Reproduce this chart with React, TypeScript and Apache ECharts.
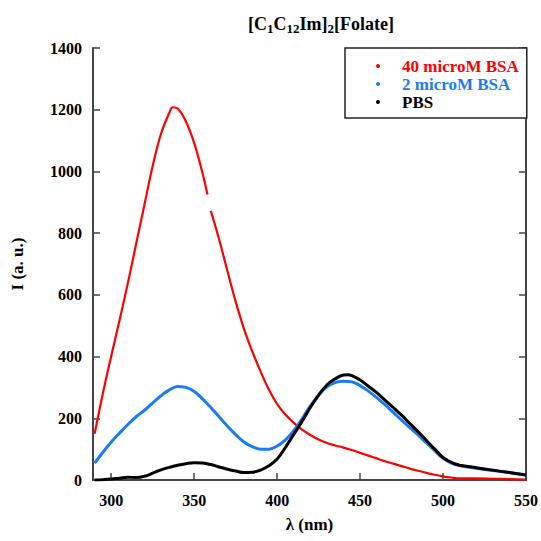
import React, { useEffect, useRef } from "react";
import * as echarts from "echarts";

const xTicks = [300, 350, 400, 450, 500, 550];

const redWl = [290, 295, 300, 305, 310, 315, 320, 325, 330, 335, 337, 340, 345, 350, 355, 358, 359, 360, 365, 370, 375, 380, 385, 390, 395, 400, 405, 410, 415, 420, 425, 430, 435, 440, 445, 450, 455, 460, 465, 470, 475, 480, 485, 490, 495, 500, 505, 510, 520, 530, 540, 550];
const redI: (number | null)[] = [150, 282, 402, 518, 638, 765, 892, 1018, 1122, 1190, 1208, 1204, 1162, 1092, 995, 925, null, 872, 780, 678, 578, 490, 417, 352, 293, 246, 212, 185, 163, 146, 131, 120, 112, 105, 97, 88, 79, 70, 61, 53, 45, 37, 30, 23, 17, 12, 8, 5, 5, 4, 3, 1];

const blueWl = [290, 295, 300, 305, 310, 315, 320, 325, 330, 335, 340, 345, 350, 355, 360, 365, 370, 375, 380, 385, 390, 395, 400, 405, 410, 415, 420, 425, 430, 435, 440, 445, 450, 455, 460, 465, 470, 475, 480, 485, 490, 495, 500, 505, 510, 520, 530, 540, 550];
const blueI = [55, 90, 123, 152, 180, 205, 226, 250, 273, 292, 303, 300, 287, 263, 235, 205, 175, 147, 123, 108, 100, 100, 110, 130, 160, 198, 240, 275, 302, 316, 320, 318, 306, 288, 267, 244, 219, 194, 170, 146, 120, 95, 70, 55, 47, 38, 31, 24, 16];

const pbsWl = [290, 295, 300, 305, 310, 315, 320, 325, 330, 335, 340, 345, 350, 355, 360, 365, 370, 375, 380, 385, 390, 395, 400, 405, 410, 415, 420, 425, 430, 435, 440, 443, 445, 450, 455, 460, 465, 470, 475, 480, 485, 490, 495, 500, 505, 510, 520, 530, 540, 550];
const pbsI = [0, 1, 3, 6, 9, 8, 12, 22, 33, 41, 48, 53, 56, 55, 50, 42, 35, 29, 24, 25, 32, 46, 68, 106, 148, 190, 235, 275, 308, 328, 340, 341, 338, 324, 304, 283, 259, 235, 210, 183, 156, 128, 100, 73, 57, 48, 40, 32, 24, 16];

const FONT = "Liberation Serif";
const AXIS_COLOR = "#444";

function pairs(xs: number[], ys: (number | null)[]) {
  return xs.map((x, i) => [x, ys[i] === null ? "-" : ys[i]]);
}

export default function App() {
  const ref = useRef<HTMLDivElement>(null);
  useEffect(() => {
    if (!ref.current) return;
    const chart = echarts.init(ref.current, null, { renderer: "svg" });
    const axisLine = { show: true, lineStyle: { color: AXIS_COLOR, width: 2 } };
    chart.setOption({
      animation: false,
      backgroundColor: "#fff",
      textStyle: { fontFamily: FONT },
      title: {
        text: "[C{sub|1}C{sub|12}Im]{sub|2}[Folate]",
        left: 243,
        top: 8,
        textStyle: {
          fontFamily: FONT,
          fontWeight: "bold",
          fontSize: 18,
          color: "#000",
          rich: {
            sub: { fontFamily: FONT, fontWeight: "bold", fontSize: 13, color: "#000", verticalAlign: "bottom", padding: [9, 0, 0, 0] },
          },
        },
      },
      legend: {
        orient: "vertical",
        left: 345,
        top: 48,
        padding: [9, 8, 7, 31],
        itemGap: 0,
        itemWidth: 4,
        itemHeight: 18,
        borderColor: "#222",
        borderWidth: 1.5,
        backgroundColor: "#fff",
        icon: "circle",
        textStyle: { fontFamily: FONT, fontWeight: "bold", fontSize: 17, lineHeight: 18, padding: [0, 0, 0, 17] },
        data: [
          { name: "40 microM BSA", textStyle: { color: "#ff0000" } },
          { name: "2 microM BSA", textStyle: { color: "#1a7cf5" } },
          { name: "PBS", textStyle: { color: "#000" } },
        ],
      },
      grid: { left: 93, right: 14, top: 48, bottom: 61 },
      xAxis: [
        {
          type: "value",
          min: 289,
          max: 550,
          name: "λ (nm)",
          nameLocation: "middle",
          nameGap: 36,
          nameTextStyle: { fontFamily: FONT, fontWeight: "bold", fontSize: 17, color: "#000" },
          axisLine,
          axisTick: { show: true, inside: true, length: 7, customValues: xTicks, lineStyle: { color: AXIS_COLOR, width: 1.5 } },
          axisLabel: { customValues: xTicks, fontFamily: FONT, fontWeight: "bold", fontSize: 16, color: "#000", margin: 12 },
          splitLine: { show: false },
        },
        {
          type: "value",
          position: "top",
          min: 289,
          max: 550,
          axisLine,
          axisTick: { show: false },
          axisLabel: { show: false },
          splitLine: { show: false },
        },
      ],
      yAxis: [
        {
          type: "value",
          min: 0,
          max: 1400,
          interval: 200,
          name: "I (a. u.)",
          nameLocation: "middle",
          nameGap: 67,
          nameTextStyle: { fontFamily: FONT, fontWeight: "bold", fontSize: 17, color: "#000" },
          axisLine,
          axisTick: { show: true, inside: true, length: 7, lineStyle: { color: AXIS_COLOR, width: 1.5 } },
          axisLabel: { formatter: (v: number) => String(v), fontFamily: FONT, fontWeight: "bold", fontSize: 16, color: "#000", margin: 11 },
          splitLine: { show: false },
        },
        {
          type: "value",
          position: "right",
          min: 0,
          max: 1400,
          interval: 200,
          axisLine,
          axisTick: { show: true, inside: true, length: 7, lineStyle: { color: AXIS_COLOR, width: 1.5 } },
          axisLabel: { show: false },
          splitLine: { show: false },
        },
      ],
      series: [
        {
          name: "40 microM BSA",
          type: "line",
          smooth: 0.4,
          showSymbol: false,
          connectNulls: false,
          data: pairs(redWl, redI),
          itemStyle: { color: "#ff0000" },
          lineStyle: { color: "#ff0000", width: 2.2 },
          z: 3,
        },
        {
          name: "2 microM BSA",
          type: "line",
          smooth: 0.4,
          showSymbol: false,
          data: pairs(blueWl, blueI),
          itemStyle: { color: "#1a7cf5" },
          lineStyle: { color: "#1a7cf5", width: 3 },
          z: 4,
        },
        {
          name: "PBS",
          type: "line",
          smooth: 0.4,
          showSymbol: false,
          data: pairs(pbsWl, pbsI),
          itemStyle: { color: "#000" },
          lineStyle: { color: "#000", width: 3 },
          z: 5,
        },
      ],
    });
    return () => chart.dispose();
  }, []);
  return <div ref={ref} style={{ width: 541, height: 541, position: "absolute", left: 0, top: 0 }} />;
}
